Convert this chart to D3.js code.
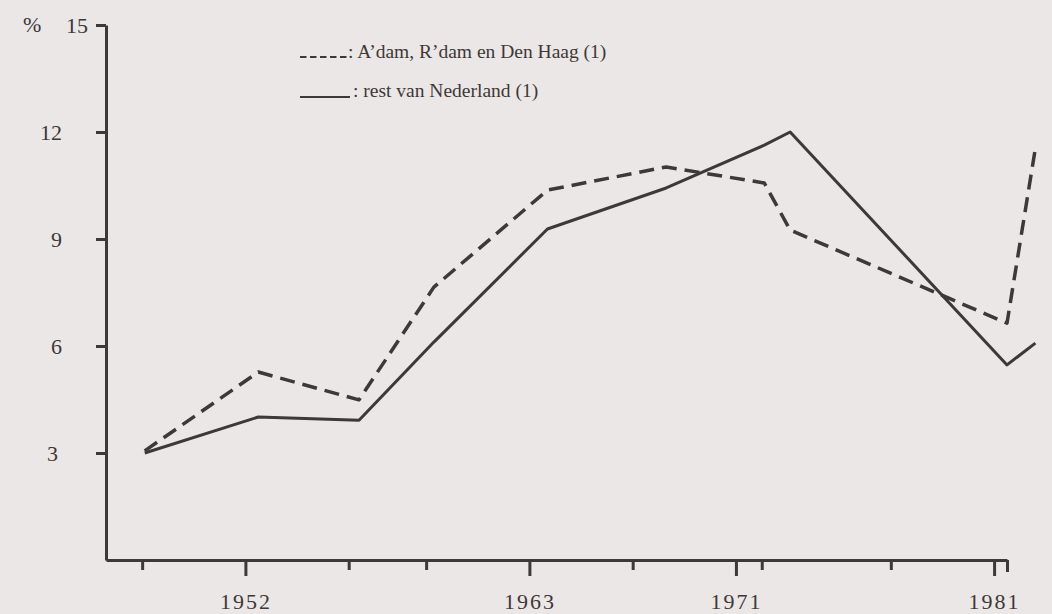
<!DOCTYPE html>
<html>
<head>
<meta charset="utf-8">
<script src="https://cdn.jsdelivr.net/npm/d3@7"></script>
<style>
  html, body { margin: 0; padding: 0; background: #ebe7e6; }
  svg { display: block; }
  text { font-family: "Liberation Serif", "DejaVu Serif", serif; fill: #3e3838; }
</style>
</head>
<body>
<svg id="chart" width="1052" height="614"></svg>
<script>
// ---- data ----
const tickYears = [1948, 1952, 1956, 1959, 1963, 1967, 1971, 1972, 1977, 1981];
const labeledYears = [1952, 1963, 1971, 1981];
const yTicks = [3, 6, 9, 12, 15];
// positions of the drawn vertices along the year axis
const pointYears = [1948.1, 1952.5, 1956.4, 1959.3, 1963.7, 1968.3, 1972.1, 1973.1, 1981.5, 1982.6];
const bigCities = [3.06, 5.27, 4.49, 7.65, 10.37, 11.02, 10.57, 9.25, 6.64, 11.55]; // A'dam, R'dam en Den Haag
const restNL    = [3.00, 4.01, 3.92, 6.11, 9.28, 10.43, 11.63, 12.00, 5.47, 6.08]; // rest van Nederland
const legendLabels = ["A\u2019dam, R\u2019dam en Den Haag (1)", "rest van Nederland (1)"];
const unitLabel = "%";

// ---- layout ----
const ink = "#3e3838";
const svg = d3.select("#chart");
const margin = { left: 106, right: 45, top: 25, bottom: 54 };
const W = 1052, H = 614;

const x = d3.scaleLinear().domain([1946.6, 1981.5]).range([margin.left, W - margin.right]);
const y = d3.scaleLinear().domain([0, 15]).range([H - margin.bottom, margin.top]);

// ---- y axis ----
const yAxis = svg.append("g")
  .attr("transform", `translate(${margin.left},0)`)
  .call(d3.axisLeft(y).tickValues(yTicks).tickSize(10).tickSizeOuter(0).tickPadding(34));
yAxis.select(".domain").attr("stroke", ink).attr("stroke-width", 3);
yAxis.selectAll(".tick line").attr("stroke", ink).attr("stroke-width", 3);
yAxis.selectAll(".tick text").each(function(d) {
  const off = d === 15 ? -18 : (d === 3 ? -48 : -44);
  d3.select(this)
    .attr("x", off)
    .attr("text-anchor", "end")
    .attr("font-size", 22)
    .attr("font-family", "Liberation Serif, DejaVu Serif, serif")
    .attr("fill", ink);
});
svg.append("text")
  .attr("x", 23).attr("y", y(15)).attr("dy", "0.32em")
  .attr("font-size", 22).attr("fill", ink)
  .text(unitLabel);

// ---- x axis ----
const xAxis = svg.append("g")
  .attr("transform", `translate(0,${y(0)})`)
  .call(d3.axisBottom(x)
    .tickValues([...tickYears, x.domain()[1]])
    .tickSize(10).tickSizeOuter(0)
    .tickFormat(d => labeledYears.includes(d) ? String(d) : ""));
xAxis.select(".domain").attr("stroke", ink).attr("stroke-width", 3);
xAxis.selectAll(".tick line")
  .attr("stroke", ink).attr("stroke-width", 3)
  .attr("y2", d => labeledYears.includes(d) ? 16 : (d === x.domain()[1] ? 12 : 10));
xAxis.selectAll(".tick text")
  .attr("font-size", 22)
  .attr("letter-spacing", 2)
  .attr("font-family", "Liberation Serif, DejaVu Serif, serif")
  .attr("fill", ink)
  .attr("y", 49).attr("dy", 0);

// ---- lines ----
const line = d3.line().x(d => x(d[0])).y(d => y(d[1]));
const dashedData = pointYears.map((t, i) => [t, bigCities[i]]);
const solidData = pointYears.map((t, i) => [t, restNL[i]]);

svg.append("path")
  .datum(dashedData)
  .attr("d", line)
  .attr("fill", "none")
  .attr("stroke", ink)
  .attr("stroke-width", 3.5)
  .attr("stroke-dasharray", "15,8")
  .attr("stroke-linejoin", "round");

svg.append("path")
  .datum(solidData)
  .attr("d", line)
  .attr("fill", "none")
  .attr("stroke", ink)
  .attr("stroke-width", 3)
  .attr("stroke-linejoin", "round");

// ---- legend ----
const lg = svg.append("g");
lg.append("line")
  .attr("x1", 300).attr("x2", 347).attr("y1", 57).attr("y2", 57)
  .attr("stroke", ink).attr("stroke-width", 1.8).attr("stroke-dasharray", "6.5,3.5");
lg.append("text")
  .attr("x", 348).attr("y", 58)
  .attr("font-size", 19.5).attr("fill", ink)
  .text(": " + legendLabels[0]);
lg.append("line")
  .attr("x1", 300).attr("x2", 350).attr("y1", 97).attr("y2", 97)
  .attr("stroke", ink).attr("stroke-width", 2);
lg.append("text")
  .attr("x", 353).attr("y", 97)
  .attr("font-size", 19.5).attr("fill", ink)
  .text(": " + legendLabels[1]);
</script>
</body>
</html>
